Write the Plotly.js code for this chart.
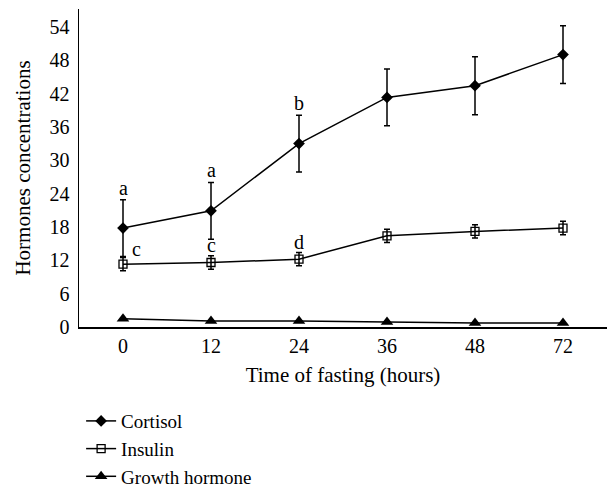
<!DOCTYPE html>
<html>
<head>
<meta charset="utf-8">
<script src="https://cdn.plot.ly/plotly-3.0.1.min.js"></script>
<style>html,body{margin:0;padding:0;background:#fff;}#chart{width:607px;height:487px;}</style>
</head>
<body>
<div id="chart"></div>
<script>
var hours = ['0', '12', '24', '36', '48', '72'];
var cortisol = [17.8, 20.9, 33.0, 41.3, 43.4, 49.0];
var cortisolErr = [5.1, 5.1, 5.1, 5.1, 5.2, 5.2];
var insulin = [11.3, 11.6, 12.2, 16.4, 17.2, 17.8];
var insulinErr = [1.2, 1.2, 1.2, 1.2, 1.2, 1.2];
var growth = [1.5, 1.1, 1.1, 0.9, 0.7, 0.7];
var cortisolLetters = ['a', 'a', 'b', '', '', ''];
var insulinLetters = ['c', 'c', 'd', '', '', ''];
var yTicks = [0, 6, 12, 18, 24, 30, 36, 42, 48, 54];

var fontFam = 'Liberation Serif, DejaVu Serif, serif';
var errStyle = {type: 'data', visible: true, color: '#000', thickness: 1.5, width: 3};

var traces = [
  {x: hours, y: cortisol, name: 'Cortisol', type: 'scatter', mode: 'lines+markers',
   line: {color: '#000', width: 1.5}, marker: {symbol: 'diamond', size: 9, color: '#000'},
   error_y: Object.assign({array: cortisolErr}, errStyle), legendgroup: 'c'},
  {x: hours, y: insulin, name: 'Insulin', type: 'scatter', mode: 'lines+markers',
   line: {color: '#000', width: 1.5}, marker: {symbol: 'square-open', size: 8, color: '#000', line: {width: 1.3}},
   error_y: Object.assign({array: insulinErr}, errStyle), legendgroup: 'i'},
  {x: hours, y: growth, name: 'Growth hormone', type: 'scatter', mode: 'lines+markers',
   line: {color: '#000', width: 1.5}, marker: {symbol: 'triangle-up', size: 11, color: '#000'},
   legendgroup: 'g'}
];

var annotations = [];
cortisolLetters.forEach(function (t, i) {
  if (!t) return;
  annotations.push({x: i, y: cortisol[i] + cortisolErr[i], xref: 'x', yref: 'y', text: t,
    showarrow: false, yanchor: 'bottom', yshift: -1, font: {family: fontFam, size: 20, color: '#000'}});
});
insulinLetters.forEach(function (t, i) {
  if (!t) return;
  var first = i === 0;
  annotations.push({x: i, y: insulin[i] + insulinErr[i], xref: 'x', yref: 'y', text: t,
    showarrow: false, yanchor: 'bottom', xshift: first ? 13 : 0, yshift: first ? -4 : -2,
    font: {family: fontFam, size: 20, color: '#000'}});
});

var layout = {
  width: 607, height: 487,
  margin: {l: 79, r: 0, t: 9, b: 160, autoexpand: false},
  paper_bgcolor: '#fff', plot_bgcolor: '#fff',
  font: {family: fontFam, size: 20, color: '#000'},
  showlegend: true,
  legend: {x: 0.004, xanchor: 'left', y: -0.236, yanchor: 'top', orientation: 'v',
    tracegroupgap: 0, font: {family: fontFam, size: 19, color: '#000'}, bgcolor: 'rgba(0,0,0,0)'},
  xaxis: {type: 'category', range: [-0.5, 5.5], showgrid: false, zeroline: false,
    showline: true, linecolor: '#000', linewidth: 1.5, ticks: '', ticklabelstandoff: 0,
    tickfont: {family: fontFam, size: 20, color: '#000'},
    title: {text: 'Time of fasting (hours)', font: {family: fontFam, size: 21, color: '#000'}, standoff: 12}},
  yaxis: {range: [0, 57.2], tickvals: yTicks, showgrid: false, zeroline: false,
    showline: true, linecolor: '#000', linewidth: 1.5, ticks: '', ticklabelstandoff: 4,
    tickfont: {family: fontFam, size: 20, color: '#000'},
    title: {text: 'Hormones concentrations', font: {family: fontFam, size: 21, color: '#000'}, standoff: 13}},
  annotations: annotations
};

Plotly.newPlot('chart', traces, layout, {displayModeBar: false, staticPlot: true});
</script>
</body>
</html>
